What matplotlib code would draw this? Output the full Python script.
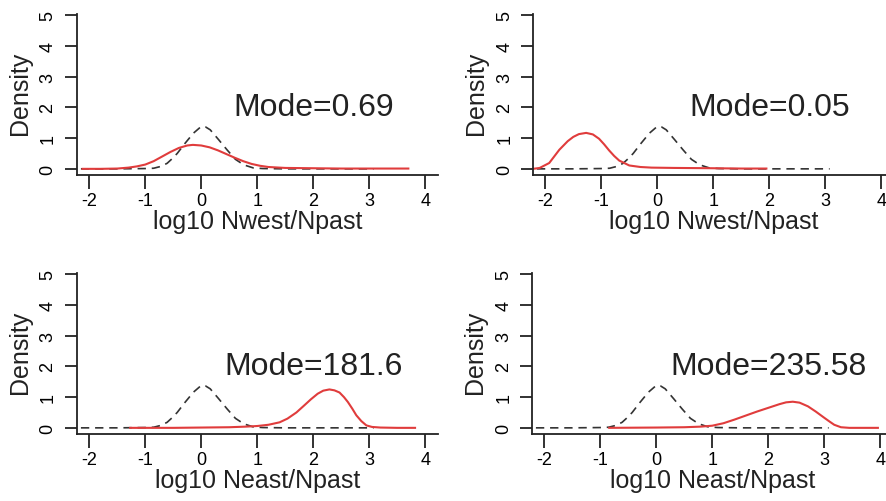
import numpy as np
import matplotlib.pyplot as plt

plt.rcParams['font.family'] = ['Liberation Sans', 'DejaVu Sans']
plt.rcParams['axes.unicode_minus'] = False

# prior density (black dashed), same in all four panels
prior_x = [-2.15, -1.5, -1.0, -0.85, -0.72, -0.61, -0.52, -0.43, -0.29, -0.14, 0.0, 0.08, 0.16,
           0.31, 0.46, 0.61, 0.76, 0.93, 1.1, 1.5, 2.0, 3.08]
prior_y = [0.0, 0.0, 0.01, 0.02, 0.08, 0.18, 0.33, 0.5, 0.83, 1.16, 1.38, 1.36, 1.27,
           0.95, 0.62, 0.31, 0.13, 0.03, 0.01, 0.0, 0.0, 0.0]

# posterior densities (red)
west1_x = [-2.12, -1.8, -1.5, -1.3, -1.15, -1.0, -0.85, -0.7, -0.55, -0.4, -0.25, -0.15, 0.0, 0.15,
           0.3, 0.45, 0.6, 0.75, 0.9, 1.05, 1.2, 1.5, 2.0, 2.5, 3.0, 3.7]
west1_y = [0.0, 0.0, 0.01, 0.04, 0.08, 0.14, 0.25, 0.4, 0.55, 0.68, 0.76, 0.78, 0.76, 0.7,
           0.6, 0.48, 0.36, 0.25, 0.16, 0.1, 0.06, 0.03, 0.02, 0.01, 0.01, 0.01]

west2_x = [-2.22, -2.1, -1.93, -1.75, -1.6, -1.5, -1.4, -1.27, -1.15, -1.04, -0.95, -0.86, -0.77,
           -0.68, -0.5, -0.3, -0.1, 0.3, 1.0, 1.5, 1.95]
west2_y = [0.0, 0.03, 0.19, 0.62, 0.9, 1.04, 1.13, 1.17, 1.12, 0.98, 0.8, 0.6, 0.42,
           0.27, 0.11, 0.06, 0.04, 0.03, 0.02, 0.01, 0.01]

east1_x = [-1.27, -0.5, 0.0, 0.5, 0.8, 1.0, 1.2, 1.4, 1.54, 1.7, 1.84, 1.96, 2.08, 2.18, 2.29, 2.38,
           2.47, 2.55, 2.62, 2.7, 2.77, 2.86, 2.95, 3.05, 3.2, 3.5, 3.82]
east1_y = [0.0, 0.0, 0.01, 0.02, 0.04, 0.06, 0.1, 0.18, 0.3, 0.5, 0.73, 0.93, 1.11, 1.21, 1.25, 1.22,
           1.15, 1.0, 0.84, 0.62, 0.41, 0.22, 0.08, 0.03, 0.01, 0.0, 0.0]

east2_x = [-0.84, 0.0, 0.5, 0.8, 1.0, 1.2, 1.4, 1.6, 1.8, 2.0, 2.2, 2.32, 2.44, 2.56, 2.71, 2.85,
           3.0, 3.1, 3.18, 3.3, 3.45, 3.7, 3.96]
east2_y = [0.0, 0.01, 0.02, 0.04, 0.07, 0.15, 0.27, 0.4, 0.53, 0.65, 0.77, 0.83, 0.85, 0.82, 0.7, 0.53,
           0.33, 0.2, 0.1, 0.02, 0.0, 0.0, 0.0]

post_x = [west1_x, west2_x, east1_x, east2_x]
post_y = [west1_y, west2_y, east1_y, east2_y]
modes = ['Mode=0.69', 'Mode=0.05', 'Mode=181.6', 'Mode=235.58']
xlabels = ['log10 Nwest/Npast', 'log10 Nwest/Npast', 'log10 Neast/Npast', 'log10 Neast/Npast']
xticks = [-2, -1, 0, 1, 2, 3, 4]
yticks = [0, 1, 2, 3, 4, 5]

W, H = 886, 502
fig = plt.figure(figsize=(W / 100, H / 100), dpi=100)

# panel boxes in pixels: left, top, right, bottom
boxes = [(77, 10, 438, 176), (533, 10, 894, 176),
         (77, 269, 438, 435), (532, 269, 893, 435)]

for i, (l, t, r, b) in enumerate(boxes):
    ax = fig.add_axes([l / W, 1 - b / H, (r - l) / W, (b - t) / H])
    ax.plot(prior_x, prior_y, color='#333333', ls=(0, (5, 3.5)), lw=1.2)
    ax.plot(post_x[i], post_y[i], color='#e03c3c', lw=1.5)
    ax.text(2, 2, modes[i], ha='center', va='center', fontsize=23, color='#222222')
    ax.set_xlim(-2.22, 4.23)
    ax.set_ylim(-0.2, 5.2)
    for s in ['top', 'right']:
        ax.spines[s].set_visible(False)
    ax.spines['left'].set_bounds(-0.2, 5.05)
    for s in ['left', 'bottom']:
        ax.spines[s].set_linewidth(1.3)
        ax.spines[s].set_color('#222222')
    ax.set_xticks(xticks)
    ax.set_yticks(yticks)
    ax.tick_params(axis='x', length=10, width=1.3, pad=2, labelsize=13, color='#222222')
    ypad = 6 if i % 2 == 0 else 5
    ax.tick_params(axis='y', length=9, width=1.3, pad=ypad, labelsize=13, color='#222222')
    for lab in ax.get_yticklabels():
        lab.set_rotation(90)
        lab.set_va('center')
    ax.set_xlabel(xlabels[i], fontsize=18, labelpad=0, color='#222222')
    ax.set_ylabel('Density', fontsize=18, color='#222222')
    ax.yaxis.set_label_coords(-0.125, 0.5)

fig.savefig('out.png', dpi=100)
